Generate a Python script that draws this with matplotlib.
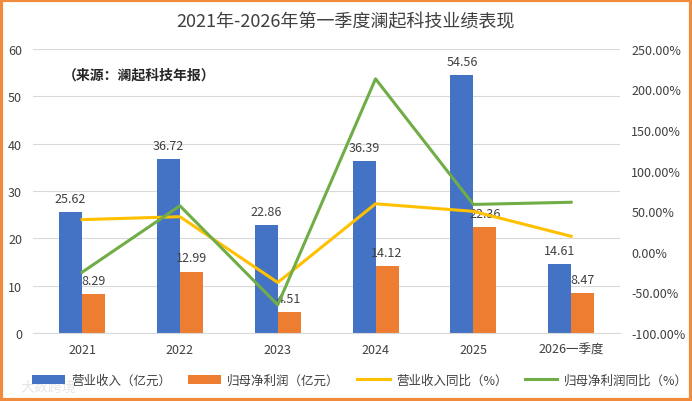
import matplotlib
matplotlib.use("Agg")
import matplotlib.pyplot as plt
from matplotlib.patches import Rectangle
from matplotlib.ticker import FuncFormatter
import numpy as np

plt.rcParams['font.family'] = ['Noto Sans CJK SC', 'DejaVu Sans']

# data
categories = ['2021', '2022', '2023', '2024', '2025', '2026一季度']
revenue = [25.62, 36.72, 22.86, 36.39, 54.56, 14.61]
net_profit = [8.29, 12.99, 4.51, 14.12, 22.36, 8.47]
revenue_yoy = [39.7, 43.3, -37.7, 59.2, 49.9, 19.2]
profit_yoy = [-25.1, 56.7, -65.3, 213.1, 58.4, 61.1]

blue = '#4472C4'
orange = '#ED7D31'
gold = '#FFC000'
green = '#70AD47'
txt = '#404040'

fig = plt.figure(figsize=(6.92, 4.02), dpi=100)
ax = fig.add_axes([0.048, 0.169, 0.848, 0.707])
ax2 = ax.twinx()

x = np.arange(len(categories))
w = 0.235
b1 = ax.bar(x - w/2, revenue, w, color=blue, label='营业收入（亿元）', zorder=2)
b2 = ax.bar(x + w/2, net_profit, w, color=orange, label='归母净利润（亿元）', zorder=2)

for xi, v in zip(x, revenue):
    ax.text(xi - w/2, v + 1.5, f'{v:.2f}', ha='center', va='bottom', fontsize=9, color=txt)
for xi, v in zip(x, net_profit):
    ax.text(xi + w/2, v + 1.5, f'{v:.2f}', ha='center', va='bottom', fontsize=9, color=txt)

l1, = ax2.plot(x, revenue_yoy, color=gold, lw=2.2, label='营业收入同比（%）')
l2, = ax2.plot(x, profit_yoy, color=green, lw=2.2, label='归母净利润同比（%）')

ax.set_xlim(-0.5, len(categories) - 0.5)
ax.set_ylim(0, 60)
ax.set_yticks(range(0, 61, 10))
ax2.set_ylim(-100, 250)
ax2.set_yticks(range(-100, 251, 50))
ax2.yaxis.set_major_formatter(FuncFormatter(lambda v, p: f'{v:.2f}%'))

ax.set_xticks(x)
ax.set_xticklabels(categories)
ax.grid(axis='y', color='#D9D9D9', lw=0.8, zorder=0)
ax.set_axisbelow(True)
for a in (ax, ax2):
    for s in a.spines.values():
        s.set_visible(False)
    a.tick_params(length=0, labelsize=9, colors=txt)
ax.spines['bottom'].set_visible(True)
ax.spines['bottom'].set_color('#D9D9D9')
ax.tick_params(axis='x', pad=7)
ax.tick_params(axis='y', pad=8)
ax2.tick_params(axis='y', pad=8)

fig.text(0.5, 0.945, '2021年-2026年第一季度澜起科技业绩表现', ha='center', va='center',
         fontsize=13, color=txt)
ax.text(0.05, 0.91, '（来源：澜起科技年报）', transform=ax.transAxes, fontsize=10,
        fontweight='bold', color='#262626', va='center')

fig.legend(handles=[b1, b2, l1, l2], loc='center', bbox_to_anchor=(0.52, 0.052), ncol=4,
           frameon=False, fontsize=9, handlelength=2.6, columnspacing=1.4,
           handletextpad=0.5, labelcolor=txt)

fig.text(0.03, 0.035, '大数跨境', fontsize=10, color='#E6E6E6', va='center')

fig.patches.append(Rectangle((0.002, 0.003), 0.996, 0.994, transform=fig.transFigure,
                             fill=False, edgecolor='#F08A3C', lw=3))

fig.savefig('out.png', dpi=100)
